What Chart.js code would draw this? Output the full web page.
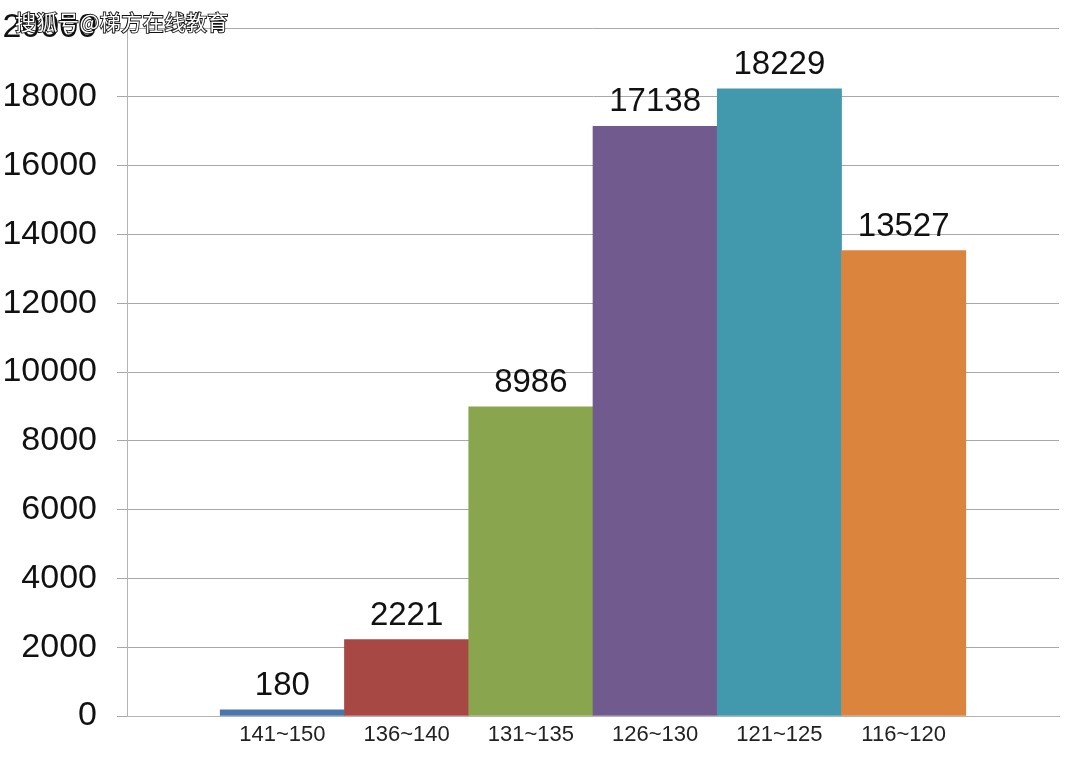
<!DOCTYPE html>
<html>
<head>
<meta charset="utf-8">
<script src="https://cdn.jsdelivr.net/npm/chart.js@4/dist/chart.umd.min.js"></script>
<style>
  html, body { margin: 0; padding: 0; background: #fff; }
  #wrap { position: relative; width: 1080px; height: 775px; }
  #mark {
    position: absolute; left: 15px; top: 6px;
    font: 21px "Noto Sans CJK SC", sans-serif;
    color: #fff; -webkit-text-stroke: 1.8px #111; paint-order: stroke fill;
    letter-spacing: 0.5px;
  }
</style>
</head>
<body>
<div id="wrap">
  <canvas id="chart" width="1080" height="775"></canvas>
  <div id="mark">搜狐号@梯方在线教育</div>
</div>
<script>
'use strict';

/* ── data ── */
const CATEGORIES = ['141~150', '136~140', '131~135', '126~130', '121~125', '116~120'];
const COUNTS     = [180, 2221, 8986, 17138, 18229, 13527];
const BAR_COLORS = ['#4a76ad', '#a84845', '#89a54e', '#705a8e', '#4299ae', '#da843e'];
const Y_MAX  = 20000;
const Y_STEP = 2000;

/* value labels above each bar */
const valueLabels = {
  id: 'valueLabels',
  afterDatasetsDraw(chart) {
    const ctx = chart.ctx;
    const meta = chart.getDatasetMeta(0);
    ctx.save();
    ctx.font = '33px "Liberation Sans", Arial, sans-serif';
    ctx.fillStyle = '#111';
    ctx.textAlign = 'center';
    ctx.textBaseline = 'alphabetic';
    meta.data.forEach((bar, i) => {
      ctx.fillText(String(COUNTS[i]), bar.x, bar.y - 15);
    });
    ctx.restore();
  }
};

new Chart(document.getElementById('chart'), {
  type: 'bar',
  data: {
    datasets: [{
      data: COUNTS.map((v, i) => ({ x: i + 1, y: v })),
      backgroundColor: BAR_COLORS,
      borderWidth: 0,
      barPercentage: 1,
      categoryPercentage: 1,
    }],
  },
  options: {
    responsive: false,
    animation: false,
    layout: { padding: { top: 28, right: 21, left: 0, bottom: 0 } },
    plugins: { legend: { display: false }, tooltip: { enabled: false } },
    scales: {
      x: {
        type: 'linear',
        offset: false,
        min: -0.25,
        max: 7.25,
        afterBuildTicks: (axis) => { axis.ticks = CATEGORIES.map((_, i) => ({ value: i + 1 })); },
        afterFit: (axis) => { axis.height = 59; axis.paddingLeft = 0; axis.paddingRight = 0; },
        ticks: {
          callback: (v) => CATEGORIES[v - 1] || '',
          color: '#222',
          font: { size: 22, family: '"Liberation Sans", Arial, sans-serif' },
          padding: 6,
          maxRotation: 0,
          autoSkip: false,
        },
        grid: { display: false, drawTicks: false },
        border: { display: true, color: '#b4b4b4', width: 1 },
      },
      y: {
        min: 0,
        max: Y_MAX,
        afterFit: (axis) => { axis.width = 127; axis.paddingTop = 0; axis.paddingBottom = 0; },
        ticks: {
          stepSize: Y_STEP,
          callback: (v) => String(v),
          color: '#111',
          font: { size: 34, family: '"Liberation Sans", Arial, sans-serif' },
          padding: 20,
        },
        grid: { color: '#a8a8a8', lineWidth: 1, tickLength: 10 },
        border: { display: true, color: '#b4b4b4', width: 1 },
      },
    },
  },
  plugins: [valueLabels],
});
</script>
</body>
</html>
